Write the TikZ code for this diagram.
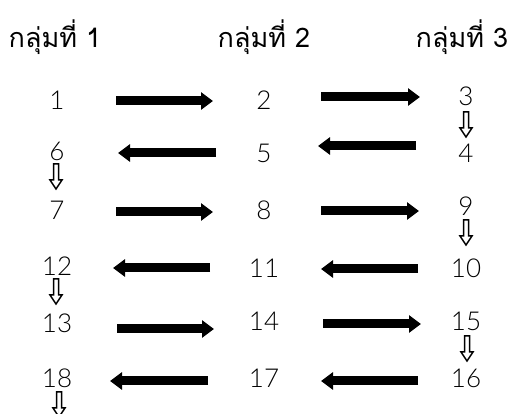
\documentclass[tikz,border=0pt]{standalone}
\usepackage{fontspec}
\newfontfamily\thaifont[Script=Thai]{Loma}
\newfontfamily\numfont{Lato Light}
\usetikzlibrary{arrows.meta,calc}
\begin{document}
\begin{tikzpicture}[x=1pt,y=-1pt,
  head/.style={font=\thaifont\fontsize{27}{30}\selectfont, inner sep=0pt},
  num/.style={font=\numfont\fontsize{26}{30}\selectfont, inner sep=0pt},
  bigarrow/.style={line width=9pt, -{Triangle[length=12pt,width=17pt]}},
  pics/downarrow/.style={code={
    \draw[line width=1.5pt, fill=white, line join=miter]
      (-2.5,0) -- (2.5,0) -- (2.5,16) -- (6,16) -- (0,25) -- (-6,16) -- (-2.5,16) -- cycle;}}
]
\useasboundingbox (0,0) rectangle (512,414);

% group headings
\node[head] (h1) at (55,37)  {กลุ่มที่ 1};
\node[head] (h2) at (264,37) {กลุ่มที่ 2};
\node[head] (h3) at (462,37) {กลุ่มที่ 3};

% numbers, row by row
\node[num] (n1)  at (57,100)  {1};
\node[num] (n2)  at (264,100) {2};
\node[num] (n3)  at (466,96)  {3};
\node[num] (n6)  at (57,151)  {6};
\node[num] (n5)  at (264,153) {5};
\node[num] (n4)  at (466,153) {4};
\node[num] (n7)  at (57,210)  {7};
\node[num] (n8)  at (264,210) {8};
\node[num] (n9)  at (466,206) {9};
\node[num] (n12) at (57,266)  {12};
\node[num] (n11) at (264,268) {11};
\node[num] (n10) at (466,268) {10};
\node[num] (n13) at (57,323)  {13};
\node[num] (n14) at (264,321) {14};
\node[num] (n15) at (466,321) {15};
\node[num] (n18) at (57,378)  {18};
\node[num] (n17) at (264,378) {17};
\node[num] (n16) at (466,378) {16};

% horizontal block arrows between the groups
\draw[bigarrow] ($(n1)+(59,1)$)   -- ($(n2)+(-51,1)$);
\draw[bigarrow] ($(n2)+(57,-3)$)  -- ($(n3)+(-46,1)$);
\draw[bigarrow] ($(n5)+(-48,0)$)  -- ($(n6)+(61,2)$);
\draw[bigarrow] ($(n4)+(-50,-7)$) -- ($(n5)+(54,-7)$);
\draw[bigarrow] ($(n7)+(59,2)$)   -- ($(n8)+(-51,2)$);
\draw[bigarrow] ($(n8)+(57,1)$)   -- ($(n9)+(-47,5)$);
\draw[bigarrow] ($(n11)+(-54,0)$) -- ($(n12)+(56,2)$);
\draw[bigarrow] ($(n10)+(-48,1)$) -- ($(n11)+(57,1)$);
\draw[bigarrow] ($(n13)+(60,6)$)  -- ($(n14)+(-50,8)$);
\draw[bigarrow] ($(n14)+(59,3)$)  -- ($(n15)+(-45,3)$);
\draw[bigarrow] ($(n17)+(-56,3)$) -- ($(n18)+(53,3)$);
\draw[bigarrow] ($(n16)+(-48,3)$) -- ($(n17)+(57,3)$);

% hollow arrows leading down to the next row
\pic (d3)  at (466,112) {downarrow};
\pic (d6)  at (56,164)  {downarrow};
\pic (d9)  at (466,220) {downarrow};
\pic (d12) at (56,279)  {downarrow};
\pic (d15) at (467,336) {downarrow};
\pic (d18) at (59,392)  {downarrow};
\end{tikzpicture}
\end{document}
